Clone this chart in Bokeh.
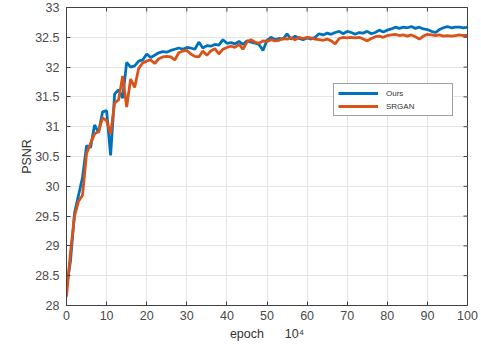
import math
from bokeh.plotting import figure
from bokeh.models import Range1d, FixedTicker, Legend, LegendItem
from bokeh.embed import file_html
from bokeh.resources import INLINE

epochs = list(range(0, 101))
ours = [28.30, 28.75, 29.55, 29.85, 30.15, 30.68, 30.65, 31.03, 30.90, 31.25,
        31.27, 30.52, 31.55, 31.62, 31.48, 32.08, 32.00, 32.02, 32.10, 32.12,
        32.22, 32.16, 32.20, 32.24, 32.26, 32.25, 32.28, 32.30, 32.32, 32.30,
        32.33, 32.32, 32.30, 32.42, 32.32, 32.36, 32.35, 32.38, 32.37, 32.46,
        32.40, 32.41, 32.39, 32.43, 32.38, 32.44, 32.42, 32.40, 32.38, 32.28,
        32.45, 32.50, 32.46, 32.48, 32.47, 32.56, 32.47, 32.52, 32.48, 32.46,
        32.49, 32.47, 32.50, 32.56, 32.54, 32.57, 32.55, 32.58, 32.60, 32.56,
        32.60, 32.58, 32.55, 32.58, 32.57, 32.60, 32.56, 32.58, 32.62, 32.59,
        32.62, 32.64, 32.67, 32.65, 32.67, 32.66, 32.68, 32.65, 32.67, 32.64,
        32.63, 32.60, 32.58, 32.63, 32.66, 32.68, 32.66, 32.67, 32.67, 32.66,
        32.67]
srgan = [28.15, 28.90, 29.50, 29.75, 29.85, 30.55, 30.72, 30.88, 30.92, 31.15,
         31.10, 30.88, 31.40, 31.45, 31.85, 31.33, 31.80, 31.66, 31.98, 32.07,
         32.10, 32.12, 32.06, 32.14, 32.17, 32.18, 32.17, 32.12, 32.24, 32.27,
         32.28, 32.22, 32.18, 32.17, 32.27, 32.20, 32.27, 32.31, 32.22, 32.30,
         32.33, 32.35, 32.33, 32.38, 32.30, 32.42, 32.46, 32.42, 32.40, 32.44,
         32.43, 32.46, 32.44, 32.45, 32.48, 32.47, 32.49, 32.46, 32.50, 32.48,
         32.50, 32.49, 32.47, 32.46, 32.45, 32.47, 32.44, 32.39, 32.48, 32.50,
         32.49, 32.50, 32.49, 32.50, 32.47, 32.44, 32.48, 32.51, 32.52, 32.50,
         32.53, 32.54, 32.55, 32.53, 32.54, 32.52, 32.54, 32.51, 32.47, 32.52,
         32.55, 32.54, 32.53, 32.54, 32.52, 32.53, 32.52, 32.53, 32.54, 32.53,
         32.53]
x_ticks = [0, 10, 20, 30, 40, 50, 60, 70, 80, 90, 100]
y_ticks = [28, 28.5, 29, 29.5, 30, 30.5, 31, 31.5, 32, 32.5, 33]
series_names = ["Ours", "SRGAN"]
series_colors = ["#0072BD", "#D95319"]

FONT = "Liberation Sans"
TICK_COLOR = "#4a4a4a"
FRAME = "#404040"

p = figure(width=481, height=349, output_backend="svg", toolbar_location=None,
           x_range=Range1d(0, 100), y_range=Range1d(28, 33),
           min_border_left=66, min_border_right=14, min_border_top=7, min_border_bottom=44)
p.outline_line_color = FRAME
p.outline_line_width = 1
p.background_fill_color = "white"
p.border_fill_color = "white"

p.xgrid.ticker = FixedTicker(ticks=x_ticks)
p.ygrid.ticker = FixedTicker(ticks=y_ticks)
p.grid.grid_line_color = "#e4e4e4"
p.grid.grid_line_width = 1

r1 = p.line(epochs, ours, line_color=series_colors[0], line_width=2.8)
r2 = p.line(epochs, srgan, line_color=series_colors[1], line_width=2.8)

# inward ticks on the top and right edges of the box (half of each dash is clipped)
p.scatter(x_ticks, [33] * len(x_ticks), marker="dash", angle=math.pi / 2, size=8,
          line_color=FRAME, line_width=1)
p.scatter([100] * len(y_ticks), y_ticks, marker="dash", size=8,
          line_color=FRAME, line_width=1)

for ax in p.xaxis + p.yaxis:
    ax.major_tick_in = 4
    ax.major_tick_out = 0
    ax.minor_tick_in = 0
    ax.minor_tick_out = 0
    ax.axis_line_color = FRAME
    ax.major_tick_line_color = FRAME
    ax.major_label_text_font = FONT
    ax.major_label_text_font_size = "12.5px"
    ax.major_label_text_color = TICK_COLOR
    ax.axis_label_text_font = FONT
    ax.axis_label_text_font_style = "normal"
    ax.axis_label_text_font_size = "12.5px"
    ax.axis_label_text_color = "#333333"

p.xaxis.ticker = FixedTicker(ticks=x_ticks)
p.yaxis.ticker = FixedTicker(ticks=y_ticks)
p.yaxis.major_label_overrides = {t: (str(int(t)) if t == int(t) else str(t)) for t in y_ticks}
p.xaxis.axis_label = "epoch\u00a0\u00a0\u00a0\u00a0\u00a0 10\u2074"
p.yaxis.axis_label = "PSNR"
p.xaxis.major_label_standoff = 5
p.yaxis.major_label_standoff = 7
p.xaxis.axis_label_standoff = 4
p.yaxis.axis_label_standoff = -2

legend = Legend(items=[LegendItem(label=series_names[0], renderers=[r1]),
                       LegendItem(label=series_names[1] + "\u00a0" * 15, renderers=[r2])],
                location=(267, 189))
legend.label_text_font = FONT
legend.label_text_font_size = "8px"
legend.label_text_color = "#333333"
legend.glyph_width = 40
legend.glyph_height = 10
legend.label_height = 10
legend.spacing = 3
legend.padding = 4
legend.margin = 0
legend.label_standoff = 8
legend.border_line_color = FRAME
legend.border_line_width = 1
legend.background_fill_alpha = 1.0
p.add_layout(legend, "center")

open("out.html", "w").write(file_html(p, INLINE))
